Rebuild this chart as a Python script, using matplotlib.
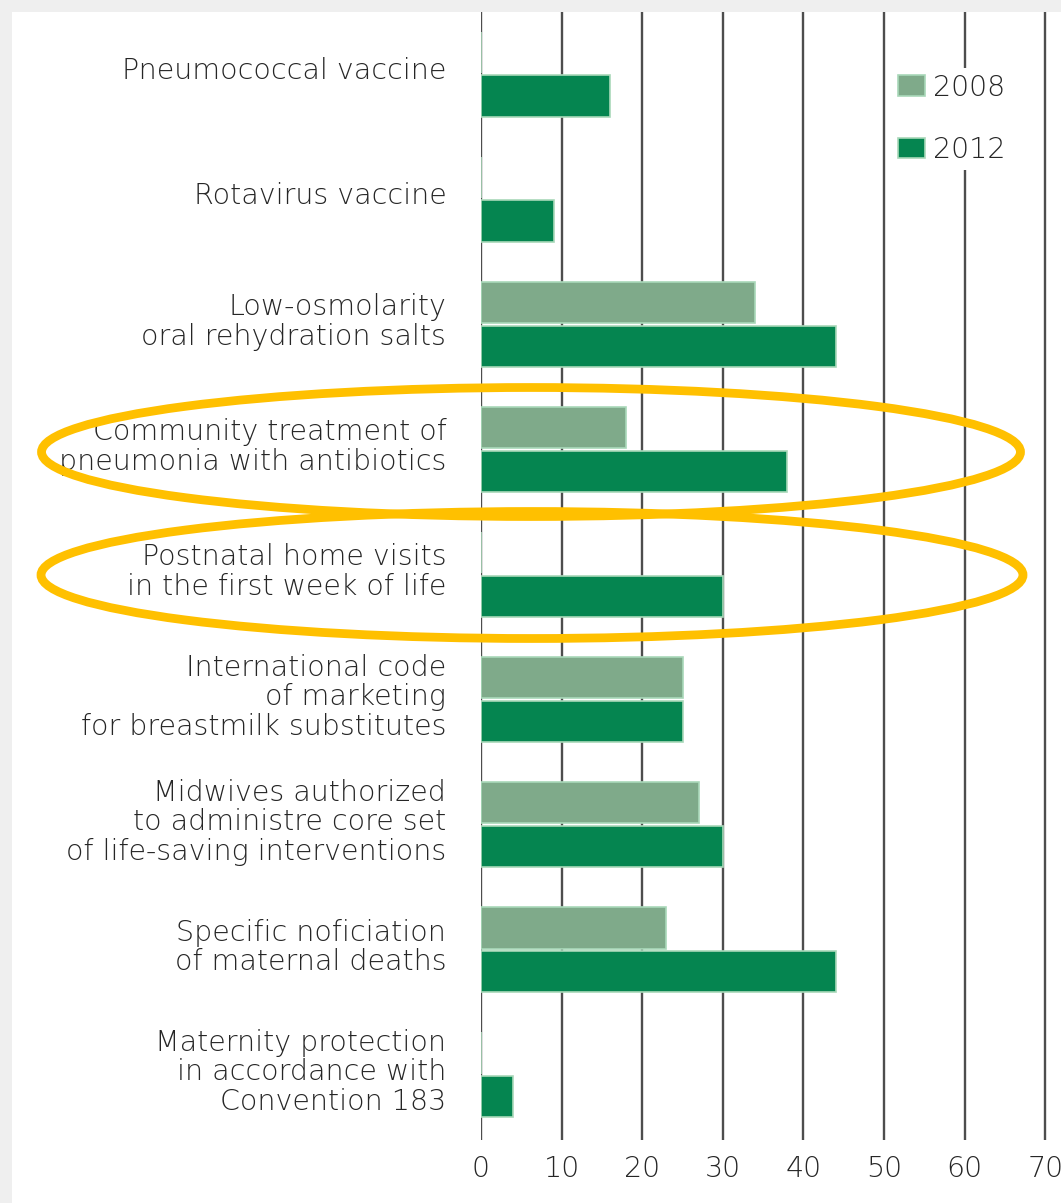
import matplotlib.pyplot as plt
from matplotlib.patches import Ellipse, Rectangle
import numpy as np

# data
categories = [
    "Pneumococcal vaccine",
    "Rotavirus vaccine",
    "Low-osmolarity\noral rehydration salts",
    "Community treatment of\npneumonia with antibiotics",
    "Postnatal home visits\nin the first week of life",
    "International code\nof marketing\nfor breastmilk substitutes",
    "Midwives authorized\nto administre core set\nof life-saving interventions",
    "Specific noficiation\nof maternal deaths",
    "Maternity protection\nin accordance with\nConvention 183",
]
values_2008 = [0, 0, 34, 18, 0, 25, 27, 23, 0]
values_2012 = [16, 9, 44, 38, 30, 25, 30, 44, 4]
x_ticks = [0, 10, 20, 30, 40, 50, 60, 70]

plt.rcParams['font.family'] = ['DejaVu Sans']
plt.rcParams['font.weight'] = 'light'

W, H = 1061, 1203
fig = plt.figure(figsize=(W / 100, H / 100), dpi=100)
fig.patch.set_facecolor('#efefef')
# white page, grey strip at top and left
fig.add_artist(Rectangle((12 / W, 0), 1, 1 - 12 / H, transform=fig.transFigure,
                         facecolor='white', edgecolor='none', zorder=-5))

ax = fig.add_axes([481 / W, 1 - 1140 / H, (W - 481) / W, (1140 - 12) / H])
ax.set_facecolor('none')

y = np.arange(len(categories))
h = 0.33
ax.barh(y - 0.175, values_2008, height=h, color='#7faa8a', edgecolor='#a9d8b9',
        linewidth=1.2, label='2008', zorder=3)
ax.barh(y + 0.175, values_2012, height=h, color='#058550', edgecolor='#a9d8b9',
        linewidth=1.2, label='2012', zorder=3)

ax.set_xlim(0, (W - 481) / 8.06)
ax.set_ylim(8.52, -0.496)
ax.set_xticks(x_ticks)
ax.set_yticks(y - 0.05)
ax.set_yticklabels(categories, fontsize=20.5, color='#262626', linespacing=1.07)
ax.tick_params(axis='y', length=0, pad=25)
ax.tick_params(axis='x', length=0, pad=11, labelsize=20.5, labelcolor='#262626')
for s in ax.spines.values():
    s.set_visible(False)
ax.grid(axis='x', color='#4d4d4d', linewidth=1.7)
ax.grid(axis='y', visible=False)
ax.set_axisbelow(True)

ax.legend(loc='upper left', bbox_to_anchor=(892 / W, 1 - 68 / H),
          bbox_transform=fig.transFigure, frameon=True, fancybox=False,
          edgecolor='none', facecolor='white', framealpha=1, borderpad=0.2,
          labelspacing=1.2, handlelength=0.95, handleheight=0.75,
          handletextpad=0.3, borderaxespad=0, fontsize=20.5, labelcolor='#262626')

# yellow highlight rings
fig.add_artist(Ellipse((531 / W, 1 - 452 / H), 979 / W, 129 / H, transform=fig.transFigure,
                       fill=False, edgecolor='#ffc000', linewidth=6.3, zorder=10))
fig.add_artist(Ellipse((532 / W, 1 - 575 / H), 982 / W, 127 / H, transform=fig.transFigure,
                       fill=False, edgecolor='#ffc000', linewidth=6.3, zorder=10))

fig.savefig('out.png', dpi=100)
